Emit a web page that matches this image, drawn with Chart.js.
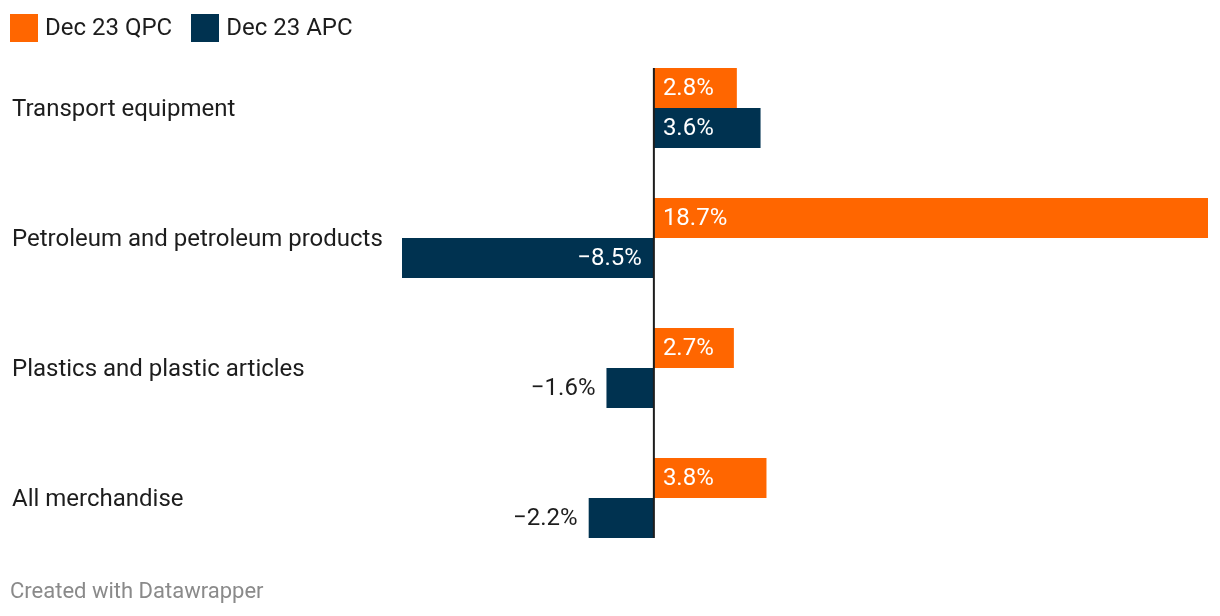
<!DOCTYPE html>
<html>
<head>
<meta charset="utf-8">
<script src="https://cdn.jsdelivr.net/npm/chart.js@4.4.0/dist/chart.umd.min.js"></script>
<style>
  html, body { margin: 0; padding: 0; background: #fff; }
  body { width: 1220px; height: 616px; position: relative; overflow: hidden; font-family: Roboto, sans-serif; }
  #chartWrap { position: absolute; left: 0; top: 0; width: 1220px; height: 616px; }
  .legend { position: absolute; top: 14px; left: 10px; display: flex; align-items: center; font-size: 24px; line-height: 28px; color: #1d1d1d; }
  .legend .sw { width: 28px; height: 28px; margin-right: 7px; }
  .legend .item { display: flex; align-items: center; margin-right: 19px; }
  .legend .txt { position: relative; top: -1px; }
  .footer { position: absolute; left: 10px; top: 578px; font-size: 22px; line-height: 26px; color: #8a8a8a; }
</style>
</head>
<body>
<div id="chartWrap"><canvas id="mychart" width="1220" height="616"></canvas></div>
<div class="legend">
  <div class="item"><div class="sw" style="background:#ff6600"></div><span class="txt">Dec 23 QPC</span></div>
  <div class="item"><div class="sw" style="background:#003250"></div><span class="txt">Dec 23 APC</span></div>
</div>
<div class="footer">Created with Datawrapper</div>
<script>
const categories = ['Transport equipment', 'Petroleum and petroleum products', 'Plastics and plastic articles', 'All merchandise']
const qpcValues = [2.8, 18.7, 2.7, 3.8]
const apcValues = [3.6, -8.5, -1.6, -2.2]
const seriesNames = ['Dec 23 QPC', 'Dec 23 APC']

const ORANGE = '#ff6600'
const NAVY = '#003250'

function fmt(v) {
    return (v < 0 ? '\u2212' : '') + Math.abs(v).toFixed(1) + '%'
}

// value labels, inside the bar when they fit, otherwise just outside
const valueLabels = {
    id: 'valueLabels',
    afterDatasetsDraw(chart) {
        const ctx = chart.ctx
        ctx.save()
        ctx.font = '24px Roboto'
        ctx.textBaseline = 'middle'
        chart.data.datasets.forEach((ds, di) => {
            chart.getDatasetMeta(di).data.forEach((bar, i) => {
                const v = ds.data[i]
                const txt = fmt(v)
                const w = ctx.measureText(txt).width
                if (v >= 0) {
                    ctx.textAlign = 'left'
                    ctx.fillStyle = '#ffffff'
                    ctx.fillText(txt, bar.base + 9, bar.y + 1)
                } else {
                    ctx.textAlign = 'right'
                    if (w + 22 < bar.base - bar.x) {
                        ctx.fillStyle = '#ffffff'
                        ctx.fillText(txt, bar.base - 12, bar.y + 1)
                    } else {
                        ctx.fillStyle = '#1d1d1d'
                        ctx.fillText(txt, bar.x - 11, bar.y + 1)
                    }
                }
            })
        })
        ctx.restore()
    }
}

// black zero line over the bars
const zeroLine = {
    id: 'zeroLine',
    afterDatasetsDraw(chart) {
        const x = chart.scales.x.getPixelForValue(0)
        const first = chart.getDatasetMeta(0).data[0]
        const last = chart.getDatasetMeta(1).data[categories.length - 1]
        const ctx = chart.ctx
        ctx.save()
        ctx.strokeStyle = '#1d1d1d'
        ctx.lineWidth = 2
        ctx.beginPath()
        ctx.moveTo(x, first.y - first.height / 2)
        ctx.lineTo(x, last.y + last.height / 2)
        ctx.stroke()
        ctx.restore()
    }
}

const ctx = document.getElementById('mychart')
new Chart(ctx, {
    type: 'bar',
    data: {
        labels: categories,
        datasets: [
            { label: seriesNames[0], data: qpcValues, backgroundColor: ORANGE, categoryPercentage: 80 / 130, barPercentage: 1 },
            { label: seriesNames[1], data: apcValues, backgroundColor: NAVY, categoryPercentage: 80 / 130, barPercentage: 1 }
        ]
    },
    options: {
        indexAxis: 'y',
        responsive: false,
        animation: false,
        layout: { padding: { left: 12, right: 12, top: 43, bottom: 53 } },
        plugins: { legend: { display: false }, tooltip: { enabled: false } },
        scales: {
            x: { display: false, min: -8.5, max: 18.7 },
            y: {
                position: 'left',
                grid: { display: false, drawTicks: false },
                border: { display: false },
                ticks: { crossAlign: 'far', padding: 0, labelOffset: 2, color: '#1d1d1d', font: { family: 'Roboto', size: 24 } },
                afterFit(scale) { scale.width = 390 }
            }
        }
    },
    plugins: [valueLabels, zeroLine]
})
</script>
</body>
</html>
